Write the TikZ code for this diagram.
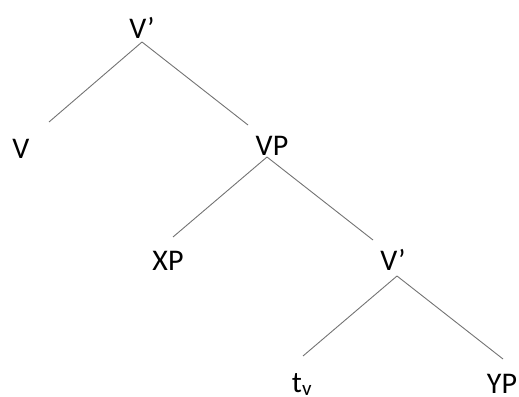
\documentclass[tikz,border=0pt]{standalone}
\usepackage{fontspec}
\setmainfont{Carlito}
\usetikzlibrary{calc}
\definecolor{branchgray}{RGB}{115,115,115}
\tikzset{cat/.style={anchor=base, inner sep=0pt, font=\fontsize{30}{36}\selectfont},
  branch/.style={draw=branchgray, line width=0.9pt}}

\begin{document}
\begin{tikzpicture}[x=1pt,y=-1pt]
  \useasboundingbox (0,0) rectangle (519,396);
  \foreach \x/\y/\lab/\txt in {
    142/38/vbar1/{V’},
    21/158/v/{V},
    272/155/vp/{VP},
    168/270/xp/{XP},
    393/270/vbar2/{V’},
    302/392/tv/{t\textsubscript{v}},
    502/393/yp/{YP}%
  } {
    \node[cat] (\lab) at (\x, \y) {\txt};
  }
  \foreach \u/\a/\v/\b in {
    vbar1/{0,4}/v/{28,-36},
    vbar1/{0,4}/vp/{-24,-30},
    vp/{-5,2}/xp/{5,-33},
    vp/{-5,2}/vbar2/{-20,-30},
    vbar2/{4,6}/tv/{1,-36},
    vbar2/{4,6}/yp/{1,-34}%
  }{
    \draw[branch] ([shift={(\a)}]\u.base) -- ([shift={(\b)}]\v.base);
  }
\end{tikzpicture}
\end{document}
